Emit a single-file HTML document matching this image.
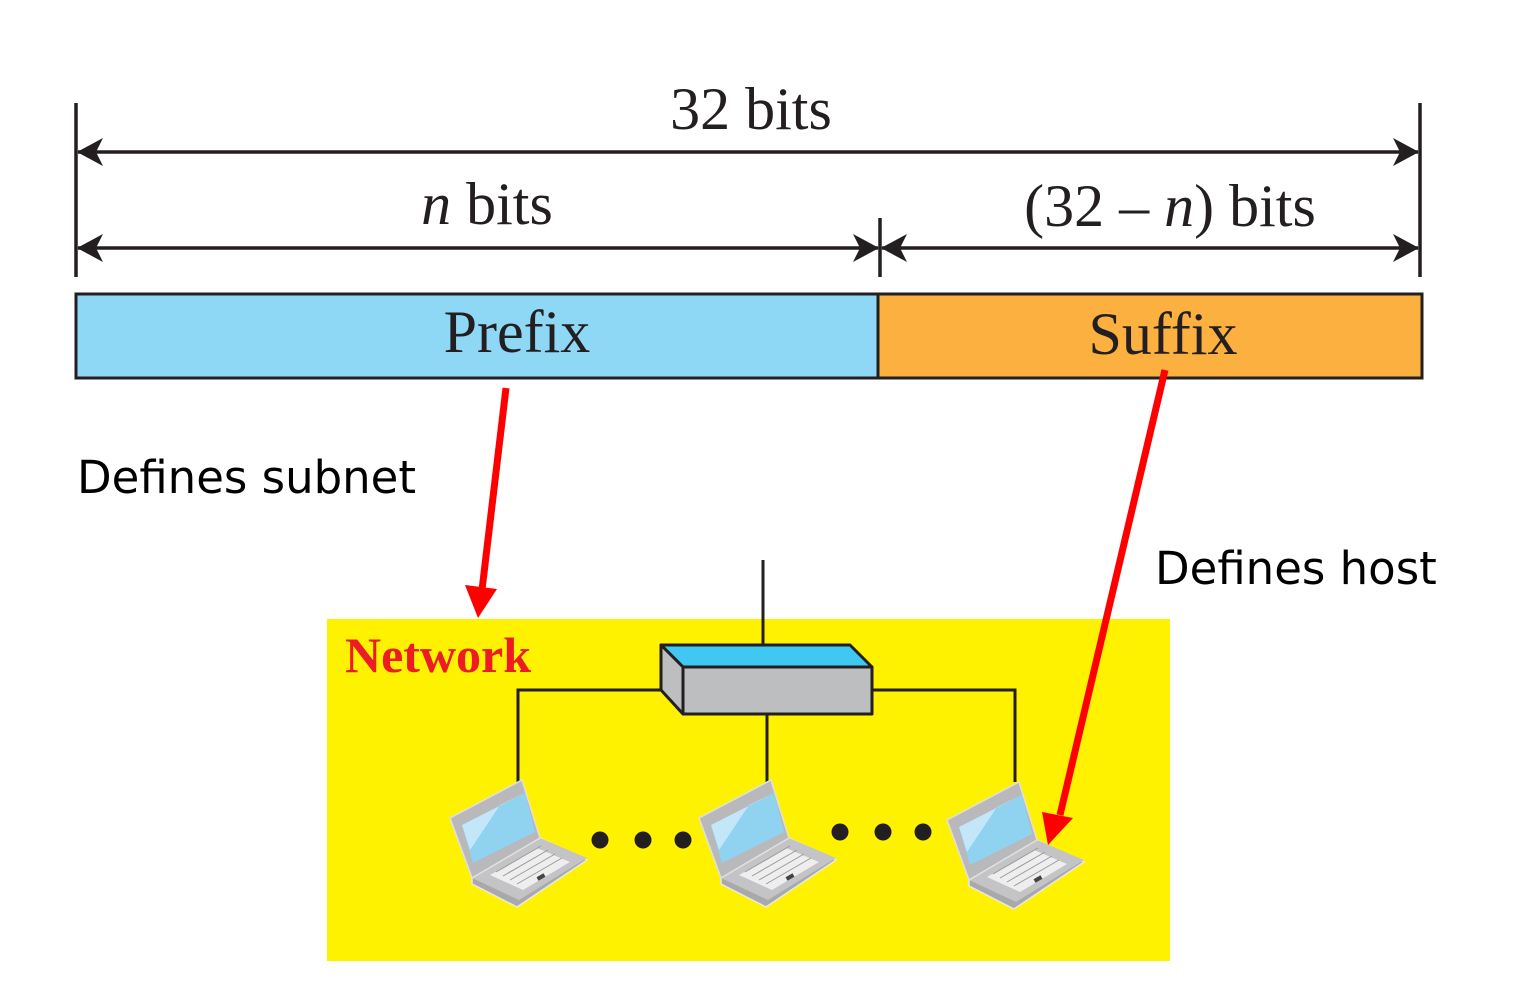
<!DOCTYPE html>
<html><head><meta charset="utf-8"><style>
html,body{margin:0;padding:0;background:#fff;}
svg{display:block;}
</style></head><body>
<svg width="1513" height="1000" viewBox="0 0 1513 1000" xmlns="http://www.w3.org/2000/svg">
<defs>
<g id="lap">
  <polygon points="472,878 540,838 587,860 517,907 472,884" fill="#a9a9ab" stroke="#e8e8e8" stroke-width="1.5"/>
  <polygon points="472,878 540,838 587,858 519,900" fill="#c4c4c6"/>
  <polygon points="490,875 537,848 570,862 523,890" fill="#eeeeee"/>
  <g stroke="#9a9a9c" stroke-width="1">
    <line x1="496" y1="872" x2="541" y2="846"/><line x1="503" y1="876" x2="548" y2="850"/>
    <line x1="510" y1="880" x2="555" y2="854"/><line x1="517" y1="884" x2="562" y2="858"/>
  </g>
  <rect x="537" y="875" width="8" height="4" fill="#444" transform="rotate(-30 541 877)"/>
  <polygon points="450,818 522,780 540,838 472,878" fill="#b9b9bb" stroke="#e0e0e0" stroke-width="1.5"/>
  <polygon points="462,825 525,793 535,832 473,863" fill="#8fd3f0"/>
  <polygon points="462,825 525,793 500,805 470,850" fill="#d8f0fb" opacity="0.7"/>
</g>
<marker id="ah" viewBox="0 0 26 28" refX="25" refY="14" markerWidth="26" markerHeight="28" markerUnits="userSpaceOnUse" orient="auto-start-reverse">
  <path d="M0,0 L26,14 L0,28 L7,14 Z" fill="#231f20"/>
</marker>
</defs>

<g stroke="#231f20" stroke-width="3.5">
  <line x1="76" y1="103" x2="76" y2="277"/>
  <line x1="1420" y1="103" x2="1420" y2="277"/>
  <line x1="880" y1="218" x2="880" y2="277"/>
</g>
<g stroke="#231f20" stroke-width="3.5" fill="none">
  <line x1="78" y1="152" x2="1418" y2="152" marker-start="url(#ah)" marker-end="url(#ah)"/>
  <line x1="78" y1="248" x2="878" y2="248" marker-start="url(#ah)" marker-end="url(#ah)"/>
  <line x1="882" y1="248" x2="1418" y2="248" marker-start="url(#ah)" marker-end="url(#ah)"/>
</g>
<g font-family="'Liberation Serif',serif" font-size="60" fill="#231f20" text-anchor="middle">
  <text x="751" y="129">32 bits</text>
  <text x="487" y="224"><tspan font-style="italic">n</tspan> bits</text>
  <text x="1170" y="226">(32 – <tspan font-style="italic">n</tspan>) bits</text>
</g>

<rect x="76" y="294" width="802" height="84" fill="#8ed8f6" stroke="#231f20" stroke-width="3"/>
<rect x="878" y="294" width="544" height="84" fill="#fbb040" stroke="#231f20" stroke-width="3"/>
<g font-family="'Liberation Serif',serif" font-size="60" fill="#231f20" text-anchor="middle">
  <text x="517" y="352">Prefix</text>
  <text x="1163" y="354">Suffix</text>
</g>

<g font-family="'DejaVu Sans','Liberation Sans',sans-serif" font-size="45" fill="#000">
  <text x="77" y="493">Defines subnet</text>
  <text x="1155" y="584">Defines host</text>
</g>

<rect x="327" y="619" width="843" height="342" fill="#fff200"/>
<text x="345" y="672" font-family="'Liberation Serif',serif" font-weight="bold" font-size="50" fill="#ed1c24">Network</text>

<g stroke="#231f20" stroke-width="3" fill="none">
  <line x1="763" y1="560" x2="763" y2="645"/>
  <polyline points="665,690 518,690 518,782"/>
  <line x1="767" y1="714" x2="767" y2="782"/>
  <polyline points="872,690 1015,690 1015,782"/>
</g>
<g stroke="#231f20" stroke-width="3" stroke-linejoin="round">
  <polygon points="661,645 850,645 872,667 683,667" fill="#3fc8f2"/>
  <polygon points="661,645 683,667 683,714 661,690" fill="#bcbec0"/>
  <rect x="683" y="667" width="189" height="47" fill="#bcbec0"/>
</g>

<use href="#lap"/>
<use href="#lap" transform="translate(249,0)"/>
<use href="#lap" transform="translate(497,2)"/>

<g fill="#231f20">
  <circle cx="600" cy="840" r="8.5"/><circle cx="643" cy="840" r="8.5"/><circle cx="683" cy="840" r="8.5"/>
  <circle cx="840" cy="832" r="8.5"/><circle cx="883" cy="832" r="8.5"/><circle cx="923" cy="832" r="8.5"/>
</g>

<g stroke="#ff0000" stroke-width="7" fill="#ff0000">
  <line x1="506" y1="388" x2="482" y2="590"/>
  <line x1="1165" y1="370" x2="1060" y2="815"/>
</g>
<polygon points="465,585 497,589 478,618" fill="#ff0000"/>
<polygon points="1042,812 1073,818 1048,845" fill="#ff0000"/>
</svg>
</body></html>
